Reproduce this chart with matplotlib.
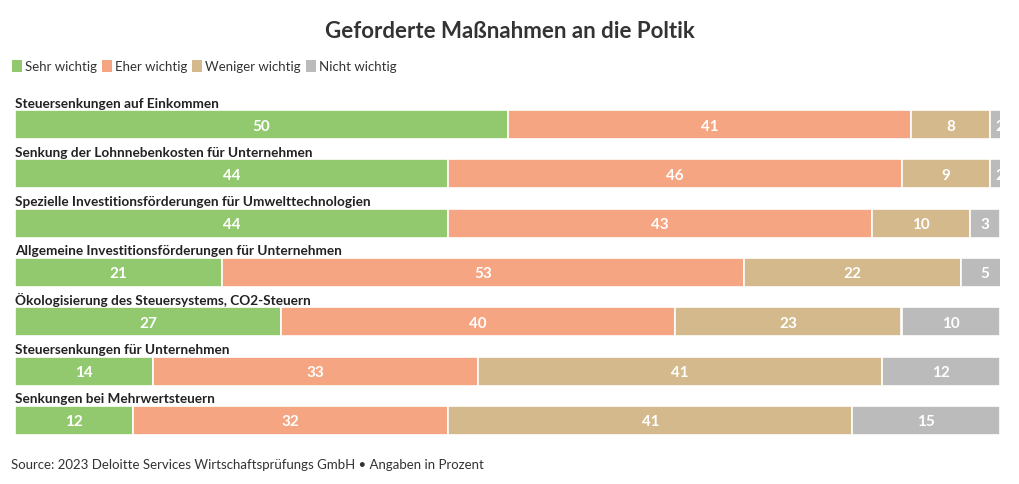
import matplotlib
matplotlib.use("Agg")
import matplotlib.pyplot as plt
from matplotlib.patches import Patch

plt.rcParams['font.family'] = ['Lato', 'DejaVu Sans']

categories = [
    "Steuersenkungen auf Einkommen",
    "Senkung der Lohnnebenkosten für Unternehmen",
    "Spezielle Investitionsförderungen für Umwelttechnologien",
    "Allgemeine Investitionsförderungen für Unternehmen",
    "Ökologisierung des Steuersystems, CO2-Steuern",
    "Steuersenkungen für Unternehmen",
    "Senkungen bei Mehrwertsteuern",
]
series_names = ["Sehr wichtig", "Eher wichtig", "Weniger wichtig", "Nicht wichtig"]
sehr = [50, 44, 44, 21, 27, 14, 12]
eher = [41, 46, 43, 53, 40, 33, 32]
weniger = [8, 9, 10, 22, 23, 41, 41]
nicht = [2, 2, 3, 5, 10, 12, 15]
colors = ["#92C96E", "#F6A582", "#D4B98C", "#BBBBBB"]

W, H = 1020, 485
fig = plt.figure(figsize=(W / 100, H / 100), dpi=100)
fig.patch.set_facecolor("white")

x0, x1 = 15, 1000
ytop, ybot = 111, 436
ax = fig.add_axes([x0 / W, 1 - ybot / H, (x1 - x0) / W, (ybot - ytop) / H])
bh = 29 / 49
n = len(categories)
ax.set_xlim(0, 100)
ax.set_ylim(n - 1 + bh / 2, -bh / 2)
ax.axis("off")

data = [sehr, eher, weniger, nicht]
left = [0] * n
for s, vals in enumerate(data):
    ax.barh(range(n), vals, left=left, height=bh, color=colors[s],
            edgecolor="white", linewidth=1.2, label=series_names[s])
    for i, v in enumerate(vals):
        ax.text(left[i] + v / 2, i + 0.02, str(v), ha="center", va="center",
                color="white", fontsize=11, fontweight="bold", clip_on=True)
    left = [l + v for l, v in zip(left, vals)]

for i, c in enumerate(categories):
    ax.text(0, i - bh / 2 - 0.03, c, ha="left", va="bottom", fontsize=9.8,
            fontweight="bold", color="#222222", clip_on=False)

fig.text(0.5, 1 - 31 / H, "Geforderte Maßnahmen an die Poltik", ha="center",
         va="center", fontsize=16, fontweight="bold", color="#333333")

handles = [Patch(facecolor=c, edgecolor="none") for c in colors]
leg = fig.legend(handles, series_names, loc="center left",
                 bbox_to_anchor=(7 / W, 1 - 67 / H), ncol=4, frameon=False,
                 handlelength=0.75, handleheight=1.1, handletextpad=0.25,
                 columnspacing=0.35, fontsize=9.5, borderaxespad=0)
for t in leg.get_texts():
    t.set_color("#333333")

fig.text(11 / W, 1 - 465 / H,
         "Source: 2023 Deloitte Services Wirtschaftsprüfungs GmbH • Angaben in Prozent",
         ha="left", va="center", fontsize=9.5, color="#333333")

fig.savefig("out.png", dpi=100, facecolor="white")
